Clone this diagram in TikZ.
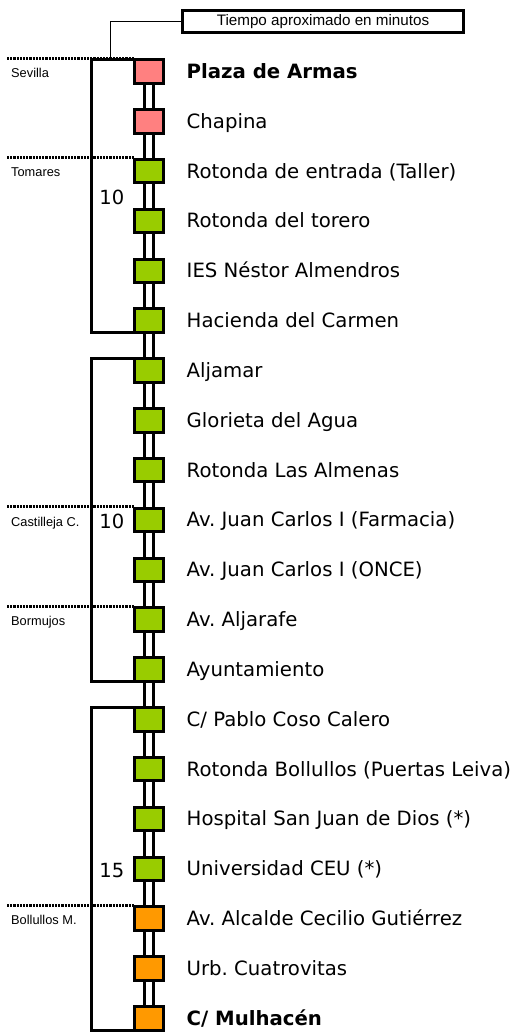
\documentclass[tikz,border=0pt]{standalone}
\usepackage{fontspec}
\setmainfont{DejaVu Sans}
\newfontfamily\smallf{Liberation Sans}
\usetikzlibrary{backgrounds}
\frenchspacing
\definecolor{stoppink}{HTML}{FF8080}
\definecolor{stopgreen}{HTML}{99CC00}
\definecolor{stoporange}{HTML}{FF9900}
\tikzset{
  stopbox/.style={draw=black, line width=3bp, minimum width=29bp, minimum height=23.5bp, inner sep=0pt, outer sep=0pt},
  pinkstop/.style={stopbox, fill=stoppink},
  greenstop/.style={stopbox, fill=stopgreen},
  orangestop/.style={stopbox, fill=stoporange},
  lbl/.style={anchor=base west, inner sep=0pt, font=\fontsize{19.7bp}{22bp}\selectfont},
  numlbl/.style={anchor=base east, inner sep=0pt, font=\fontsize{19.5bp}{22bp}\selectfont},
  town/.style={anchor=base west, inner sep=0pt, font=\smallf\fontsize{12.8bp}{14bp}\selectfont},
  bracket/.style={line width=3bp, line join=miter},
  dotline/.style={line width=3bp, dash pattern=on 2.2bp off 1bp},
}
\begin{document}
\frenchspacing
\begin{tikzpicture}[x=1bp,y=-1bp]
\useasboundingbox (0,0) rectangle (518,1032);
\foreach \i/\c/\t in {
  0/pinkstop/{\bfseries Plaza de Armas},
  1/pinkstop/Chapina,
  2/greenstop/Rotonda de entrada (Taller),
  3/greenstop/Rotonda del torero,
  4/greenstop/IES Néstor Almendros,
  5/greenstop/Hacienda del Carmen,
  6/greenstop/Aljamar,
  7/greenstop/Glorieta del Agua,
  8/greenstop/Rotonda Las Almenas,
  9/greenstop/Av. Juan Carlos I (Farmacia),
  10/greenstop/Av. Juan Carlos I (ONCE),
  11/greenstop/Av. Aljarafe,
  12/greenstop/Ayuntamiento,
  13/greenstop/{C/ Pablo Coso Calero},
  14/greenstop/Rotonda Bollullos (Puertas Leiva),
  15/greenstop/Hospital San Juan de Dios (*),
  16/greenstop/Universidad CEU (*),
  17/orangestop/Av. Alcalde Cecilio Gutiérrez,
  18/orangestop/Urb. Cuatrovitas,
  19/orangestop/{\bfseries C/ Mulhacén}} {
  \pgfmathsetmacro\yy{71.5+49.83*\i}
  \node[\c] (s\i) at (149,\yy) {};
  \node[lbl] (t\i) at (186.5,\yy+7) {\t};
}
\begin{scope}[on background layer]
  \draw[line width=12bp] (s0.center) -- (s19.center);
  \draw[white, line width=6bp] (s0.center) -- (s19.center);
\end{scope}
% brackets
\coordinate (bx) at (91.5,0);
\draw[bracket] (s0.north west) -- (bx |- s0.north west) -- (bx |- s5.south west) -- (s5.south west);
\draw[bracket] (s6.north west) -- (bx |- s6.north west) -- (bx |- s12.south west) -- (s12.south west);
\draw[bracket] (s13.north west) -- (bx |- s13.north west) -- (bx |- s19.south west) -- (s19.south west);
% legend box
\node[draw, line width=3bp, minimum width=281bp, minimum height=22bp, inner sep=0pt,
  font=\smallf\fontsize{15.2bp}{17bp}\selectfont] (box) at (323,21.5) {Tiempo aproximado en minutos};
\coordinate (tx) at (110,0);
\draw[line width=1bp] (tx |- s0.north) |- (box.west);
% town borders
\coordinate (dx) at (7,0);
\foreach \i in {0,2,9,11,17} {
  \path ([yshift=1.5bp]s\i.north west) coordinate (dE\i);
  \draw[dotline] (dx |- dE\i) -- (dE\i);
}
\node[town] (sev) at (11,77) {Sevilla};
\node[town] (tom) at (11,176.5) {Tomares};
\node[town] (cas) at (11,526) {Castilleja C.};
\node[town] (bor) at (11,625) {Bormujos};
\node[town] (bol) at (11,924.5) {Bollullos M.};
% minutes
\node[numlbl] (m1) at (124.5,204.5) {10};
\node[numlbl] (m2) at (124.5,528.5) {10};
\node[numlbl] (m3) at (124.5,877.5) {15};
\end{tikzpicture}
\end{document}
